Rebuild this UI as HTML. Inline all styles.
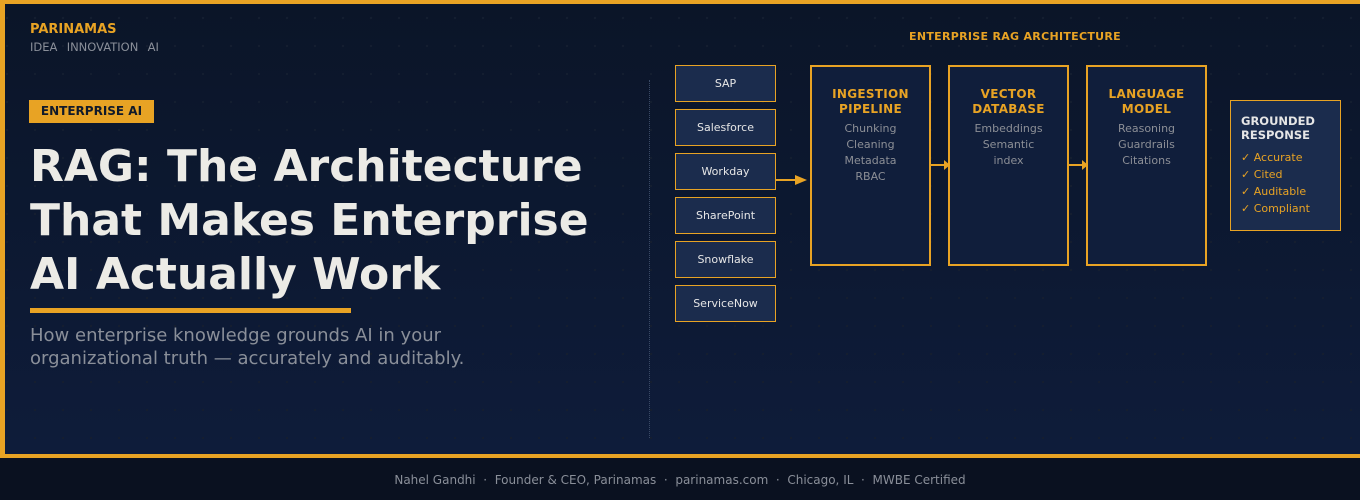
<!DOCTYPE html>
<html><head><meta charset="utf-8"><style>
*{margin:0;padding:0;box-sizing:border-box}
body{width:1360px;height:500px;overflow:hidden;background:#0a1120;font-family:"DejaVu Sans","Liberation Sans",sans-serif;position:relative}
.main{position:absolute;left:0;top:0;width:1360px;height:458px;border-top:4px solid #e8a324;border-left:5px solid #e8a324;border-bottom:4px solid #e8a324;
background-image:radial-gradient(circle,#151e30 1px,transparent 1.3px),linear-gradient(180deg,#0b1528 0%,#0e1c3a 100%);background-size:28px 28px,100% 100%;background-position:660px 0,0 0}
.a{position:absolute}
.src{position:absolute;left:675px;width:101px;height:37px;background:#1b2c4d;border:1px solid #e8a324;color:#e6e6e6;font-size:11px;text-align:center;line-height:35px}
.stage{position:absolute;top:65px;width:121px;height:201px;background:#101e3b;border:2px solid #e8a324;text-align:center}
.stage h3{color:#e8a324;font-size:12px;font-weight:bold;line-height:15px;margin-top:14px;letter-spacing:0.3px}
.stage p{color:#8c8f96;font-size:11px;line-height:16px;margin-top:4px}
</style></head><body>
<div class="main"></div>
<div class="a" style="left:30px;top:22px;color:#e8a324;font-weight:bold;font-size:13px">PARINAMAS</div>
<div class="a" style="left:30px;top:40px;color:#8a8f99;font-size:11.5px;word-spacing:1px">IDEA&nbsp; INNOVATION&nbsp; AI</div>
<div class="a" style="left:29px;top:100px;width:125px;height:23px;background:#e8a324;color:#111a2a;font-weight:bold;font-size:12px;line-height:23px;text-align:center">ENTERPRISE AI</div>
<div class="a" style="left:30px;top:140px;color:#ecebe6;font-weight:bold;font-size:44px;line-height:54px;white-space:nowrap">RAG: The Architecture<br>That Makes Enterprise<br>AI Actually Work</div>
<div class="a" style="left:30px;top:308px;width:321px;height:5px;background:#e8a324"></div>
<div class="a" style="left:30px;top:324px;color:#8a8f99;font-size:18px;line-height:23px;white-space:nowrap">How enterprise knowledge grounds AI in your<br>organizational truth — accurately and auditably.</div>
<div class="a" style="left:649px;top:80px;height:358px;border-left:1px dotted #3a4a66"></div>
<div class="a" style="left:860px;top:30px;width:310px;text-align:center;color:#e8a324;font-weight:bold;font-size:11px;letter-spacing:0.3px">ENTERPRISE RAG ARCHITECTURE</div>
<div class="src" style="top:65px">SAP</div>
<div class="src" style="top:109px">Salesforce</div>
<div class="src" style="top:153px">Workday</div>
<div class="src" style="top:197px">SharePoint</div>
<div class="src" style="top:241px">Snowflake</div>
<div class="src" style="top:285px">ServiceNow</div>
<div class="stage" style="left:810px"><h3 style="margin-top:20px">INGESTION<br>PIPELINE</h3><p>Chunking<br>Cleaning<br>Metadata<br>RBAC</p></div>
<div class="stage" style="left:948px"><h3 style="margin-top:20px">VECTOR<br>DATABASE</h3><p>Embeddings<br>Semantic<br>index</p></div>
<div class="stage" style="left:1086px"><h3 style="margin-top:20px">LANGUAGE<br>MODEL</h3><p>Reasoning<br>Guardrails<br>Citations</p></div>
<svg class="a" style="left:0;top:0" width="1360" height="500">
<g fill="#e8a324" stroke="#e8a324" stroke-width="2">
<line x1="776" y1="180" x2="800" y2="180"/><polygon points="795,175 807,180 795,185" stroke="none"/>
<line x1="931" y1="165" x2="944" y2="165"/><polygon points="944,160 950,165 944,170" stroke="none"/>
<line x1="1069" y1="165" x2="1082" y2="165"/><polygon points="1082,160 1088,165 1082,170" stroke="none"/>
</g></svg>
<div class="a" style="left:1230px;top:100px;width:111px;height:131px;background:#1b2c4d;border:1px solid #e8a324;padding:13px 0 0 10px">
<div style="color:#e6e6e6;font-weight:bold;font-size:11.5px;line-height:14px">GROUNDED<br>RESPONSE</div>
<div style="color:#e8a324;font-size:11px;line-height:17px;margin-top:7px">✓ Accurate<br>✓ Cited<br>✓ Auditable<br>✓ Compliant</div>
</div>
<div class="a" style="left:0;top:473px;width:1360px;text-align:center;color:#8a8f99;font-size:12px;white-space:pre">Nahel Gandhi  ·  Founder &amp; CEO, Parinamas  ·  parinamas.com  ·  Chicago, IL  ·  MWBE Certified</div>
</body></html>
